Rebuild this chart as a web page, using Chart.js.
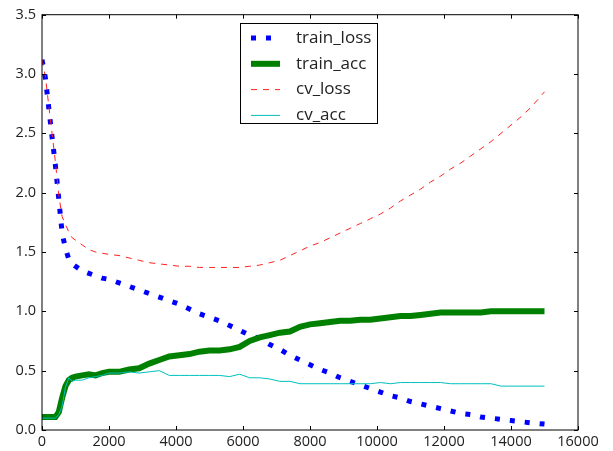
<!DOCTYPE html>
<html>
<head>
<meta charset="utf-8">
<script src="https://cdn.jsdelivr.net/npm/chart.js@4.4.0/dist/chart.umd.min.js"></script>
<style>
    body { margin: 0; background: #fff; }
    #wrap { width: 613px; height: 451px; }
</style>
</head>
<body>
<div id="wrap"><canvas id="chart" width="613" height="451"></canvas></div>
<script>
// Values
const iterations = [0, 100, 200, 300, 400, 500, 600, 700, 800, 900, 1000, 1200, 1400, 1600, 1800,
    2000, 2300, 2600, 2900, 3200, 3500, 3800, 4100, 4400, 4700, 5000, 5300, 5600, 5900, 6200,
    6500, 6800, 7100, 7400, 7700, 8000, 8300, 8600, 8900, 9200, 9500, 9800, 10100, 10400, 10700,
    11000, 11300, 11600, 11900, 12200, 12500, 12800, 13100, 13400, 13700, 14000, 14300, 14600, 15000];

const trainLoss = [3.12, 2.97, 2.72, 2.47, 2.23, 1.95, 1.66, 1.53, 1.44, 1.40, 1.38, 1.34, 1.32, 1.30, 1.28,
    1.27, 1.24, 1.21, 1.18, 1.15, 1.12, 1.09, 1.06, 1.02, 0.98, 0.95, 0.92, 0.88, 0.84, 0.80,
    0.77, 0.72, 0.68, 0.63, 0.59, 0.55, 0.51, 0.48, 0.44, 0.41, 0.38, 0.35, 0.32, 0.29, 0.27,
    0.24, 0.22, 0.20, 0.18, 0.16, 0.14, 0.13, 0.11, 0.10, 0.09, 0.08, 0.07, 0.06, 0.05];

const trainAcc = [0.11, 0.11, 0.11, 0.11, 0.11, 0.15, 0.27, 0.37, 0.42, 0.44, 0.45, 0.46, 0.47, 0.46, 0.48,
    0.49, 0.49, 0.51, 0.52, 0.56, 0.59, 0.62, 0.63, 0.64, 0.66, 0.67, 0.67, 0.68, 0.70, 0.75,
    0.78, 0.80, 0.82, 0.83, 0.87, 0.89, 0.90, 0.91, 0.92, 0.92, 0.93, 0.93, 0.94, 0.95, 0.96,
    0.96, 0.97, 0.98, 0.99, 0.99, 0.99, 0.99, 0.99, 1.00, 1.00, 1.00, 1.00, 1.00, 1.00];

const cvLoss = [3.12, 2.98, 2.74, 2.50, 2.26, 1.98, 1.80, 1.73, 1.67, 1.62, 1.60, 1.56, 1.52, 1.50, 1.49,
    1.48, 1.47, 1.45, 1.43, 1.41, 1.40, 1.39, 1.38, 1.38, 1.37, 1.37, 1.37, 1.37, 1.37, 1.38,
    1.39, 1.41, 1.43, 1.47, 1.51, 1.55, 1.58, 1.62, 1.66, 1.70, 1.74, 1.78, 1.82, 1.87, 1.93,
    1.98, 2.03, 2.09, 2.14, 2.20, 2.25, 2.31, 2.37, 2.43, 2.50, 2.57, 2.64, 2.72, 2.85];

const cvAcc = [0.10, 0.10, 0.10, 0.10, 0.10, 0.13, 0.20, 0.36, 0.44, 0.41, 0.42, 0.42, 0.44, 0.45, 0.46,
    0.48, 0.48, 0.49, 0.48, 0.49, 0.50, 0.46, 0.46, 0.46, 0.46, 0.46, 0.46, 0.45, 0.47, 0.44,
    0.44, 0.43, 0.41, 0.41, 0.39, 0.39, 0.39, 0.39, 0.39, 0.39, 0.39, 0.39, 0.40, 0.39, 0.40,
    0.40, 0.40, 0.40, 0.40, 0.39, 0.39, 0.39, 0.39, 0.39, 0.37, 0.37, 0.37, 0.37, 0.37];

const xTicks = [0, 2000, 4000, 6000, 8000, 10000, 12000, 14000, 16000];
const yTicks = [0, 0.5, 1.0, 1.5, 2.0, 2.5, 3.0, 3.5];

function toPoints(values) {
    return iterations.map((x, i) => ({ x: x, y: values[i] }));
}

Chart.defaults.font.family = "'Open Sans', sans-serif";
Chart.defaults.font.size = 14.5;
Chart.defaults.color = '#222';

// matplotlib-style frame with inward ticks on all four sides
const framePlugin = {
    id: 'frame',
    afterDatasetsDraw(chart) {
        const { ctx, chartArea: a, scales: { x, y } } = chart;
        ctx.save();
        ctx.strokeStyle = '#000';
        ctx.lineWidth = 1;
        ctx.strokeRect(a.left, a.top, a.right - a.left, a.bottom - a.top);
        ctx.beginPath();
        xTicks.forEach(v => {
            const px = Math.round(x.getPixelForValue(v)) + 0.5;
            ctx.moveTo(px, a.bottom); ctx.lineTo(px, a.bottom - 4);
            ctx.moveTo(px, a.top); ctx.lineTo(px, a.top + 4);
        });
        yTicks.forEach(v => {
            const py = Math.round(y.getPixelForValue(v)) + 0.5;
            ctx.moveTo(a.left, py); ctx.lineTo(a.left + 4, py);
            ctx.moveTo(a.right, py); ctx.lineTo(a.right - 4, py);
        });
        ctx.stroke();
        ctx.restore();
    }
};

// legend box drawn inside the plot, upper centre
const legendPlugin = {
    id: 'boxLegend',
    afterDraw(chart) {
        const ctx = chart.ctx;
        const box = { left: 240, top: 23, width: 137, height: 100 };
        ctx.save();
        ctx.fillStyle = '#fff';
        ctx.fillRect(box.left, box.top, box.width, box.height);
        ctx.strokeStyle = '#000';
        ctx.lineWidth = 1;
        ctx.strokeRect(box.left + 0.5, box.top + 0.5, box.width, box.height);
        chart.data.datasets.forEach((ds, i) => {
            const rowY = 38 + i * 25.8;
            ctx.beginPath();
            ctx.strokeStyle = ds.borderColor;
            ctx.lineWidth = ds.borderWidth;
            ctx.setLineDash(ds.borderDash || []);
            ctx.moveTo(251, rowY);
            ctx.lineTo(280, rowY);
            ctx.stroke();
            ctx.setLineDash([]);
            ctx.fillStyle = '#222';
            ctx.font = "17px 'Open Sans', sans-serif";
            ctx.textBaseline = 'middle';
            ctx.fillText(ds.label, 296, rowY);
        });
        ctx.restore();
    }
};

const ctx = document.getElementById('chart').getContext('2d');
new Chart(ctx, {
    type: 'line',
    data: {
        datasets: [
            { label: 'train_loss', data: toPoints(trainLoss), borderColor: '#0000ff', borderWidth: 5, borderDash: [5, 10], order: 3 },
            { label: 'train_acc', data: toPoints(trainAcc), borderColor: '#008000', borderWidth: 6, order: 2 },
            { label: 'cv_loss', data: toPoints(cvLoss), borderColor: '#ff2020', borderWidth: 1, borderDash: [6, 6], order: 1 },
            { label: 'cv_acc', data: toPoints(cvAcc), borderColor: '#00bfbf', borderWidth: 1, order: 0 }
        ]
    },
    options: {
        responsive: false,
        animation: false,
        layout: { padding: { top: 13, right: 35, left: 0, bottom: 0 } },
        elements: {
            point: { radius: 0 },
            line: { tension: 0, fill: false, borderCapStyle: 'butt' }
        },
        plugins: {
            legend: { display: false },
            tooltip: { enabled: false }
        },
        scales: {
            x: {
                type: 'linear',
                min: 0,
                max: 16000,
                afterBuildTicks: scale => { scale.ticks = xTicks.map(v => ({ value: v })); },
                afterFit: scale => { scale.height = 21; },
                grid: { display: false, drawTicks: false },
                border: { display: false },
                ticks: { padding: 3, maxRotation: 0, autoSkip: false, callback: v => String(v) }
            },
            y: {
                type: 'linear',
                min: 0,
                max: 3.5,
                afterBuildTicks: scale => { scale.ticks = yTicks.map(v => ({ value: v })); },
                afterFit: scale => { scale.width = 42; },
                grid: { display: false, drawTicks: false },
                border: { display: false },
                ticks: { padding: 6, autoSkip: false, callback: v => v.toFixed(1) }
            }
        }
    },
    plugins: [framePlugin, legendPlugin]
});
</script>
</body>
</html>
